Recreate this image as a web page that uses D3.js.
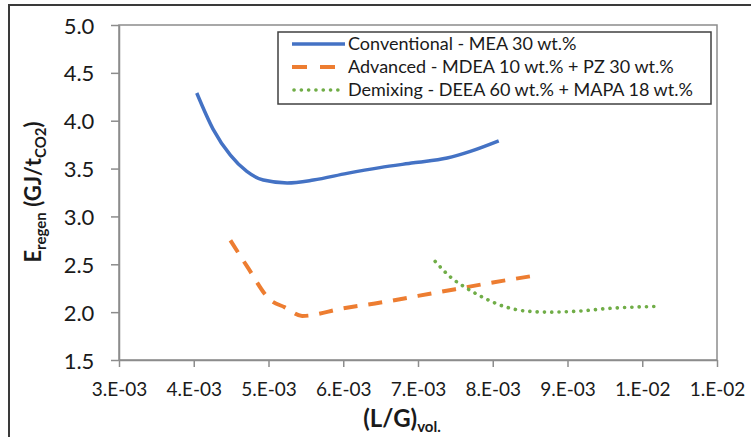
<!DOCTYPE html>
<html>
<head>
<meta charset="utf-8">
<script src="https://cdnjs.cloudflare.com/ajax/libs/d3/7.8.5/d3.min.js"></script>
<style>
    body { margin: 0; background: #fff; }
    text { font-family: Lato, "Open Sans", sans-serif; fill: #1a1a1a; }
</style>
</head>
<body>
<div id="chart"></div>
<script>
// values, x = (L/G)vol, y = E regen
const convX = [4.04e-3, 4.26e-3, 4.49e-3, 4.71e-3, 4.93e-3, 5.25e-3, 5.60e-3, 6.05e-3, 6.49e-3, 6.94e-3, 7.39e-3, 7.70e-3, 8.08e-3];
const convY = [4.29, 3.91, 3.64, 3.47, 3.38, 3.35, 3.38, 3.45, 3.51, 3.56, 3.61, 3.68, 3.79];

const advX = [4.49e-3, 4.72e-3, 5.02e-3, 5.22e-3, 5.45e-3, 6.0e-3, 6.5e-3, 7.0e-3, 7.5e-3, 8.0e-3, 8.55e-3];
const advY = [2.75, 2.47, 2.13, 2.05, 1.96, 2.04, 2.10, 2.17, 2.24, 2.31, 2.38];

const demX = [7.23e-3, 7.43e-3, 7.65e-3, 7.88e-3, 8.15e-3, 8.46e-3, 8.77e-3, 9.13e-3, 9.57e-3, 10.20e-3];
const demY = [2.53, 2.37, 2.25, 2.15, 2.06, 2.01, 2.00, 2.01, 2.04, 2.06];

const seriesNames = [
    "Conventional - MEA 30 wt.%",
    "Advanced - MDEA 10 wt.% + PZ 30 wt.%",
    "Demixing - DEEA 60 wt.% + MAPA 18 wt.%"
];

const xTicks = [3e-3, 4e-3, 5e-3, 6e-3, 7e-3, 8e-3, 9e-3, 10e-3, 11e-3];
const yTicks = [1.5, 2.0, 2.5, 3.0, 3.5, 4.0, 4.5, 5.0];

// excel style "0.E+00"
function sciFmt(v) {
    let e = Math.floor(Math.log10(v) + 1e-9);
    let m = Math.round(v / Math.pow(10, e));
    if (m >= 10) { m = 1; e += 1; }
    let ex = String(Math.abs(e)).padStart(2, "0");
    return m + ".E" + (e < 0 ? "-" : "+") + ex;
}

makeChart();

function makeChart() {
    const width = 751, height = 437;
    const plot = {left: 119, top: 25, right: 717, bottom: 360};

    const svg = d3.select("#chart")
        .append("svg")
        .attr("width", width)
        .attr("height", height);

    // outer chart frame (runs off the right and bottom edge)
    svg.append("rect")
        .attr("x", 9).attr("y", 5)
        .attr("width", 800).attr("height", 500)
        .attr("fill", "none")
        .attr("stroke", "#3a3a3a")
        .attr("stroke-width", 2);

    const x = d3.scaleLinear().domain([3e-3, 11e-3]).range([plot.left, plot.right]);
    const y = d3.scaleLinear().domain([1.5, 5.0]).range([plot.bottom, plot.top]);

    // plot area border
    svg.append("rect")
        .attr("x", plot.left).attr("y", plot.top)
        .attr("width", plot.right - plot.left)
        .attr("height", plot.bottom - plot.top)
        .attr("fill", "none")
        .attr("stroke", "#8c8c8c")
        .attr("stroke-width", 1.5);

    // axes
    const xAxis = svg.append("g")
        .attr("transform", "translate(0," + plot.bottom + ")")
        .call(d3.axisBottom(x).tickValues(xTicks).tickFormat(sciFmt).tickSize(7).tickSizeOuter(0));
    const yAxis = svg.append("g")
        .attr("transform", "translate(" + plot.left + ",0)")
        .call(d3.axisLeft(y).tickValues(yTicks).tickFormat(d3.format(".1f")).tickSize(8).tickSizeOuter(0));

    [xAxis, yAxis].forEach(function(a) {
        a.select(".domain").attr("stroke", "#8c8c8c").attr("stroke-width", 1.5);
        a.selectAll(".tick line").attr("stroke", "#8c8c8c").attr("stroke-width", 1.5);
        a.selectAll(".tick text").attr("fill", "#1a1a1a").style("font-family", "Lato, 'Open Sans', sans-serif");
    });
    xAxis.selectAll(".tick text").attr("font-size", 19).attr("dy", "1.37em");
    yAxis.selectAll(".tick text").attr("font-size", 22).attr("dx", "-0.62em").attr("dy", "0.37em");

    // series lines
    const line = d3.line()
        .x(d => x(d[0]))
        .y(d => y(d[1]))
        .curve(d3.curveMonotoneX);

    const series = [
        {pts: d3.zip(convX, convY), color: "#4472C4", width: 3.5, dash: null, cap: "butt"},
        {pts: d3.zip(advX, advY), color: "#ED7D31", width: 4, dash: "14,11", cap: "butt"},
        {pts: d3.zip(demX, demY), color: "#70AD47", width: 3.6, dash: "0.1,7.2", cap: "round"}
    ];

    svg.selectAll(".series")
        .data(series)
        .enter()
        .append("path")
        .attr("class", "series")
        .attr("d", d => line(d.pts))
        .attr("fill", "none")
        .attr("stroke", d => d.color)
        .attr("stroke-width", d => d.width)
        .attr("stroke-linecap", d => d.cap)
        .attr("stroke-dasharray", d => d.dash);

    // legend
    const legend = svg.append("g");
    legend.append("rect")
        .attr("x", 278).attr("y", 32)
        .attr("width", 433).attr("height", 72)
        .attr("fill", "#fff")
        .attr("stroke", "#404040")
        .attr("stroke-width", 1.5);

    const rows = legend.selectAll(".row")
        .data(series)
        .enter()
        .append("g")
        .attr("class", "row")
        .attr("transform", (d, i) => "translate(0," + (44 + i * 23) + ")");
    rows.append("line")
        .attr("x1", (d, i) => i == 2 ? 294 : 292).attr("x2", 345)
        .attr("stroke", d => d.color)
        .attr("stroke-width", d => d.width)
        .attr("stroke-linecap", d => d.cap)
        .attr("stroke-dasharray", (d, i) => i == 1 ? "15,13" : d.dash);
    rows.append("text")
        .attr("x", 348)
        .attr("dy", "0.35em")
        .attr("font-size", 18)
        .text((d, i) => seriesNames[i]);

    // axis titles
    const yt = svg.append("text")
        .attr("transform", "translate(41,192) rotate(-90)")
        .attr("text-anchor", "middle")
        .attr("font-weight", "bold")
        .attr("font-size", 22);
    yt.append("tspan").text("E");
    yt.append("tspan").attr("font-size", 15).attr("dy", 5).text("regen");
    yt.append("tspan").attr("dy", -5).text(" (GJ/t");
    yt.append("tspan").attr("font-size", 15).attr("dy", 5).text("CO2");
    yt.append("tspan").attr("dy", -5).text(")");

    const xt = svg.append("text")
        .attr("x", 402).attr("y", 427)
        .attr("text-anchor", "middle")
        .attr("font-weight", "bold")
        .attr("font-size", 24);
    xt.append("tspan").text("(L/G)");
    xt.append("tspan").attr("font-size", 15).attr("dy", 5).text("vol.");
}
</script>
</body>
</html>
